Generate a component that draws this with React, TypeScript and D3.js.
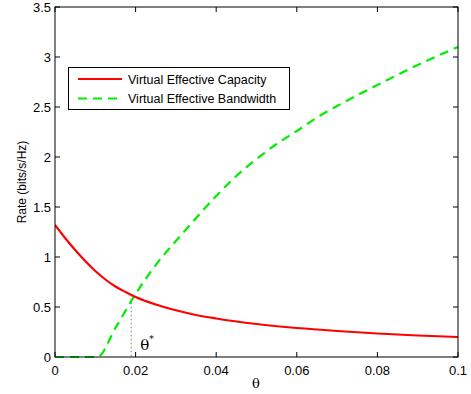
import React, { useRef, useEffect } from "react";
import * as d3 from "d3";

// θ samples for each series
const capTheta = [0, 0.0025, 0.005, 0.0075, 0.01, 0.0125, 0.015, 0.0175, 0.02, 0.025, 0.03, 0.035, 0.04, 0.05, 0.06, 0.07, 0.08, 0.09, 0.1];
const capValues = [1.32, 1.19, 1.07, 0.96, 0.86, 0.775, 0.705, 0.65, 0.6, 0.525, 0.467, 0.42, 0.385, 0.33, 0.29, 0.26, 0.235, 0.215, 0.2];

const bwTheta = [0, 0.005, 0.0105, 0.015, 0.02, 0.025, 0.03, 0.035, 0.04, 0.045, 0.05, 0.055, 0.06, 0.066, 0.07, 0.08, 0.09, 0.1];
const bwValues = [0, 0, 0, 0.29, 0.63, 0.92, 1.16, 1.39, 1.61, 1.81, 1.98, 2.13, 2.26, 2.42, 2.51, 2.72, 2.92, 3.1];

const xTicks = [0, 0.02, 0.04, 0.06, 0.08, 0.1];
const yTicks = [0, 0.5, 1, 1.5, 2, 2.5, 3, 3.5];
const thetaStar = 0.0189;

const legendItems = ["Virtual Effective Capacity", "Virtual Effective Bandwidth"];

const W = 471;
const H = 394;

const App: React.FC = () => {
  const svgRef = useRef<SVGSVGElement | null>(null);

  useEffect(() => {
    if (!svgRef.current) return;
    const svg = d3.select(svgRef.current);
    svg.selectAll("*").remove();

    const left = 55, right = 458, top = 7, bottom = 357;
    const font = '"Liberation Sans", Arial, Helvetica, sans-serif';

    const x = d3.scaleLinear().domain([0, 0.1]).range([left, right]);
    const y = d3.scaleLinear().domain([0, 3.5]).range([bottom, top]);

    svg.append("rect").attr("width", W).attr("height", H).attr("fill", "#fff");

    const clip = svg.append("clipPath").attr("id", "plotclip");
    clip.append("rect").attr("x", left).attr("y", top - 2).attr("width", right - left + 2).attr("height", bottom - top + 4);

    const tk = 5;
    const axes = svg.append("g").attr("stroke", "#000").attr("stroke-width", 1);
    xTicks.forEach((t) => {
      const px = x(t);
      axes.append("line").attr("x1", px).attr("x2", px).attr("y1", bottom).attr("y2", bottom - tk);
      axes.append("line").attr("x1", px).attr("x2", px).attr("y1", top).attr("y2", top + tk);
      svg.append("text")
        .attr("x", px).attr("y", bottom + 18)
        .attr("text-anchor", "middle")
        .attr("font-family", font).attr("font-size", "13px")
        .text(d3.format("~g")(t));
    });
    yTicks.forEach((t) => {
      const py = y(t);
      axes.append("line").attr("x1", left).attr("x2", left + tk).attr("y1", py).attr("y2", py);
      axes.append("line").attr("x1", right).attr("x2", right - tk).attr("y1", py).attr("y2", py);
      svg.append("text")
        .attr("x", left - 4).attr("y", py + 4.5)
        .attr("text-anchor", "end")
        .attr("font-family", font).attr("font-size", "13px")
        .text(String(t));
    });

    const plot = svg.append("g").attr("clip-path", "url(#plotclip)");

    // dotted marker at θ*
    const capAt = d3.scaleLinear().domain(capTheta).range(capValues);
    plot.append("line")
      .attr("x1", x(thetaStar)).attr("x2", x(thetaStar))
      .attr("y1", y(capAt(thetaStar))).attr("y2", bottom)
      .attr("stroke", "#777").attr("stroke-width", 1).attr("stroke-dasharray", "1.5,2.5");

    const line = d3.line<[number, number]>()
      .x((d) => x(d[0]))
      .y((d) => y(d[1]))
      .curve(d3.curveMonotoneX);

    plot.append("path")
      .datum(bwTheta.map((t, i) => [t, bwValues[i]] as [number, number]))
      .attr("d", line)
      .attr("fill", "none").attr("stroke", "#00ee00").attr("stroke-width", 2.2)
      .attr("stroke-dasharray", "9,6");

    plot.append("path")
      .datum(capTheta.map((t, i) => [t, capValues[i]] as [number, number]))
      .attr("d", line)
      .attr("fill", "none").attr("stroke", "#ff0000").attr("stroke-width", 2.2);

    svg.append("rect")
      .attr("x", left).attr("y", top).attr("width", right - left).attr("height", bottom - top)
      .attr("fill", "none").attr("stroke", "#000").attr("stroke-width", 1);

    // θ* label
    const ts = svg.append("text")
      .attr("x", x(thetaStar) + 9).attr("y", bottom - 7)
      .attr("font-family", '"DejaVu Serif", serif').attr("font-size", "15px");
    ts.append("tspan").text("θ");
    ts.append("tspan").attr("dy", -8).attr("font-size", "9px").text("*");

    // legend
    const lg = svg.append("g");
    lg.append("rect")
      .attr("x", 68.5).attr("y", 67.5).attr("width", 221).attr("height", 42)
      .attr("fill", "#fff").attr("stroke", "#000").attr("stroke-width", 1);
    legendItems.forEach((name, i) => {
      const ly = 79 + i * 19.5;
      lg.append("line")
        .attr("x1", 78).attr("x2", 122).attr("y1", ly).attr("y2", ly)
        .attr("stroke", i === 0 ? "#ff0000" : "#00ee00").attr("stroke-width", 2.2)
        .attr("stroke-dasharray", i === 0 ? null : "9,6");
      lg.append("text")
        .attr("x", 128).attr("y", ly + 4.5)
        .attr("font-family", font).attr("font-size", "12.5px")
        .text(name);
    });

    // axis labels
    svg.append("text")
      .attr("x", 256).attr("y", 388)
      .attr("text-anchor", "middle")
      .attr("font-family", '"DejaVu Serif", serif').attr("font-size", "13px")
      .text("θ");
    svg.append("text")
      .attr("transform", `translate(26,${(top + bottom) / 2}) rotate(-90)`)
      .attr("text-anchor", "middle")
      .attr("font-family", font).attr("font-size", "12px")
      .text("Rate (bits/s/Hz)");
  }, []);

  return (
    <svg
      ref={svgRef}
      width={W}
      height={H}
      style={{ position: "absolute", left: 0, top: 0, display: "block" }}
    />
  );
};

export default App;
